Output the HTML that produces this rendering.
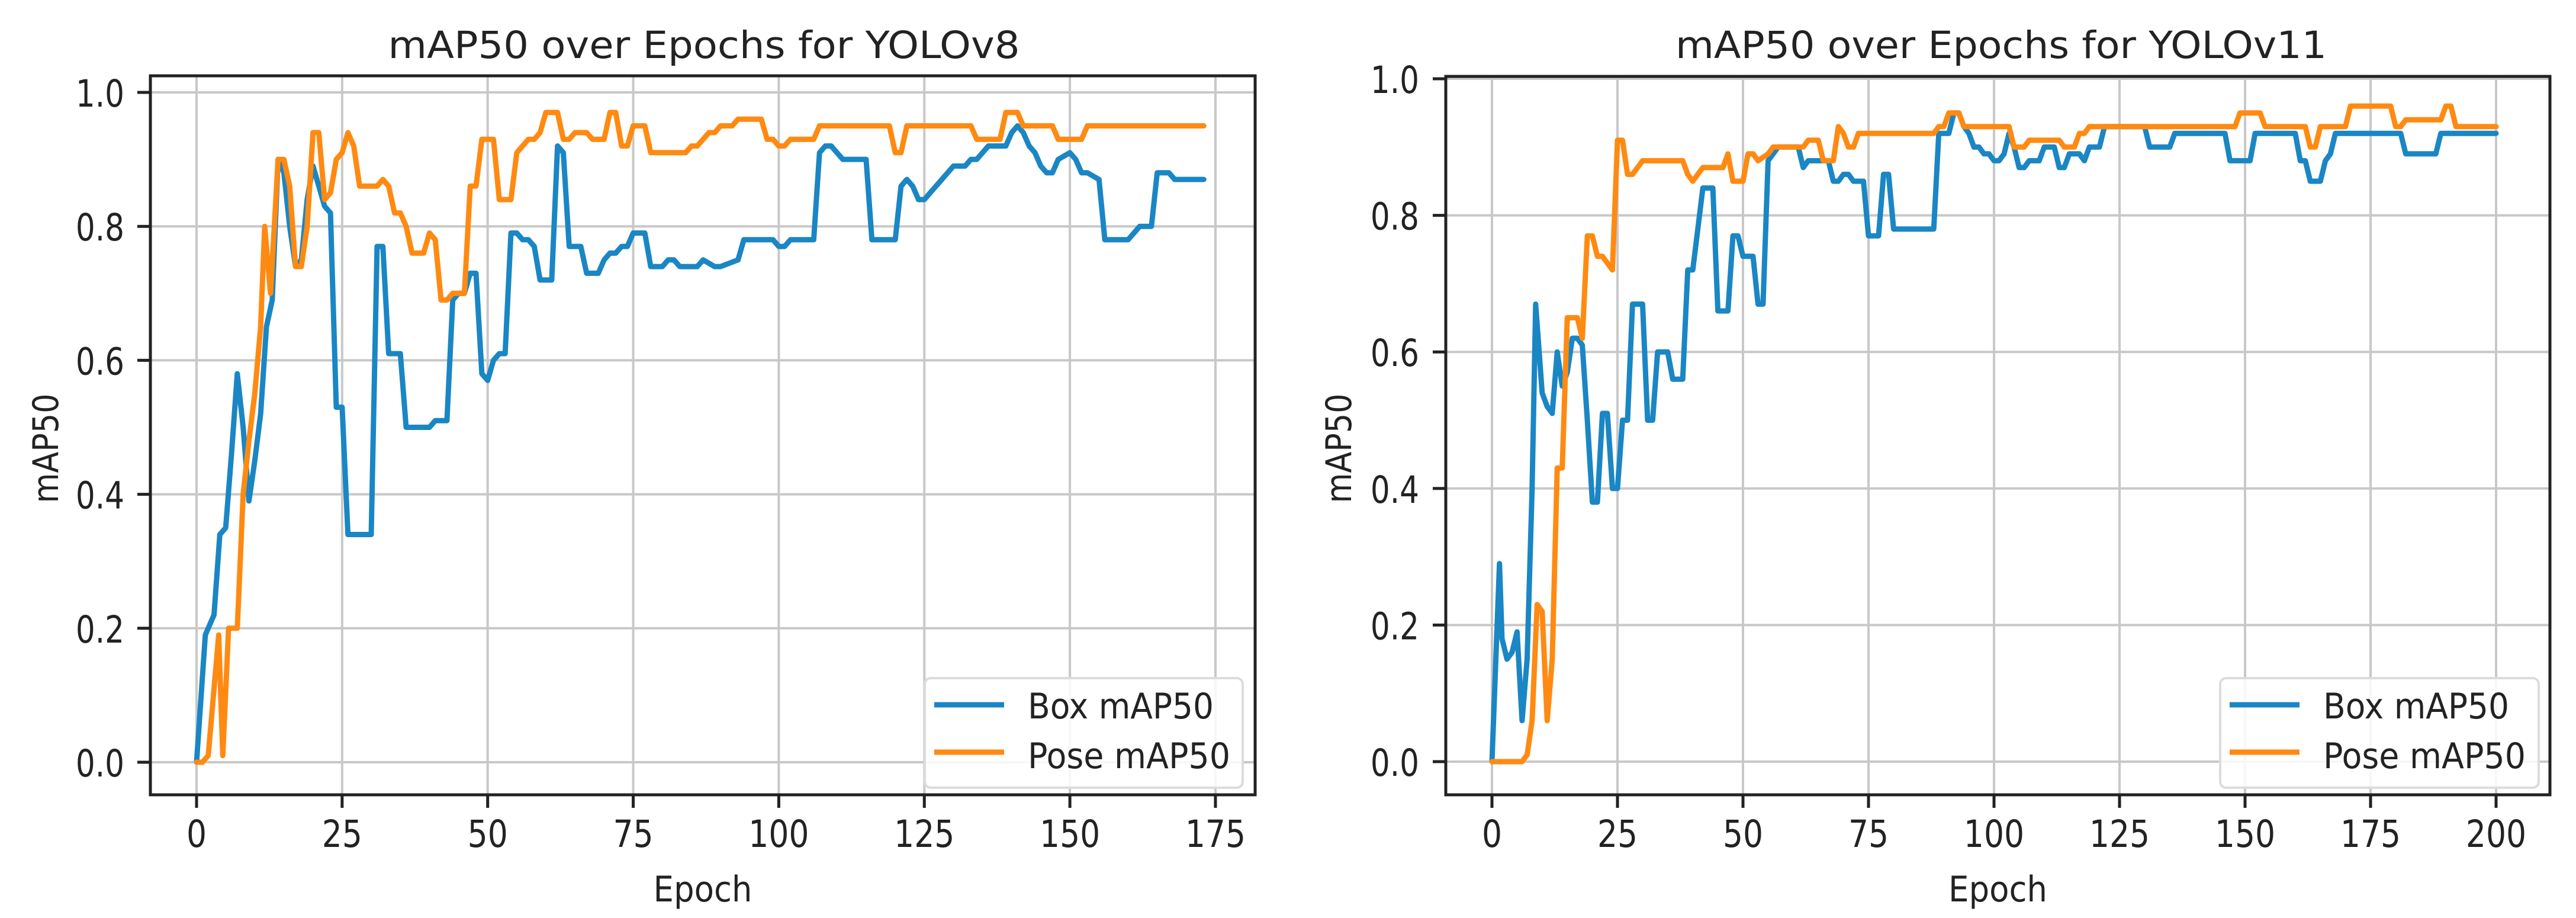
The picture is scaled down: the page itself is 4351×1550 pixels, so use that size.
<!DOCTYPE html>
<html><head><meta charset="utf-8">
<style>
html,body{margin:0;padding:0;background:#fff;}
svg{display:block;font-family:"DejaVu Sans","Liberation Sans",sans-serif;}
</style></head>
<body>
<svg id="fig" width="4351" height="1550" viewBox="0 0 4351 1550" xmlns="http://www.w3.org/2000/svg"></svg>
<script>
// ---- Data: YOLOv8 (left) ----
const v8BoxEpochs = [0,1.5,3,4,5,6,7,8,9,10,11,12,13,14,15,16,17,18,19,20,21,22,23,24,25,26,30,31,32,33,35,36,40,41,43,44,45,46,47,48,49,50,51,52,53,54,55,56,57,58,59,61,62,63,64,66,67,69,70,71,72,73,74,75,77,78,80,81,82,83,86,87,89,90,93,94,99,100,101,102,106,107,108,109,110,111,115,116,120,121,122,123,124,125,126,127,128,129,130,132,133,134,135,136,139,140,141,142,143,144,145,146,147,148,150,151,152,153,155,156,160,161,162,164,165,167,168,173];
const v8BoxValues = [0,0.19,0.22,0.34,0.35,0.46,0.58,0.5,0.39,0.45,0.52,0.65,0.69,0.9,0.88,0.8,0.74,0.75,0.84,0.89,0.86,0.83,0.82,0.53,0.53,0.34,0.34,0.77,0.77,0.61,0.61,0.5,0.5,0.51,0.51,0.69,0.7,0.7,0.73,0.73,0.58,0.57,0.6,0.61,0.61,0.79,0.79,0.78,0.78,0.77,0.72,0.72,0.92,0.91,0.77,0.77,0.73,0.73,0.75,0.76,0.76,0.77,0.77,0.79,0.79,0.74,0.74,0.75,0.75,0.74,0.74,0.75,0.74,0.74,0.75,0.78,0.78,0.77,0.77,0.78,0.78,0.91,0.92,0.92,0.91,0.9,0.9,0.78,0.78,0.86,0.87,0.86,0.84,0.84,0.85,0.86,0.87,0.88,0.89,0.89,0.9,0.9,0.91,0.92,0.92,0.94,0.95,0.94,0.92,0.91,0.89,0.88,0.88,0.9,0.91,0.9,0.88,0.88,0.87,0.78,0.78,0.79,0.8,0.8,0.88,0.88,0.87,0.87];
const v8PoseEpochs = [0,1,2,3.8,4.5,5.5,7,8,9,10,11,11.7,12.7,14,15,16,17,18,19,20,21,22,23,24,25,26,27,28,31,32,33,34,35,36,37,39,40,41,42,43,44,46,47,48,49,51,52,54,55,56,57,58,59,60,62,63,64,65,67,68,70,71,72,73,74,75,77,78,84,85,86,87,88,89,90,92,93,97,98,99,100,101,102,106,107,119,120,121,122,133,134,138,139,141,142,147,148,152,153,173];
const v8PoseValues = [0,0,0.01,0.19,0.01,0.2,0.2,0.4,0.48,0.55,0.65,0.8,0.7,0.9,0.9,0.86,0.74,0.74,0.8,0.94,0.94,0.84,0.85,0.9,0.91,0.94,0.92,0.86,0.86,0.87,0.86,0.82,0.82,0.8,0.76,0.76,0.79,0.78,0.69,0.69,0.7,0.7,0.86,0.86,0.93,0.93,0.84,0.84,0.91,0.92,0.93,0.93,0.94,0.97,0.97,0.93,0.93,0.94,0.94,0.93,0.93,0.97,0.97,0.92,0.92,0.95,0.95,0.91,0.91,0.92,0.92,0.93,0.94,0.94,0.95,0.95,0.96,0.96,0.93,0.93,0.92,0.92,0.93,0.93,0.95,0.95,0.91,0.91,0.95,0.95,0.93,0.93,0.97,0.97,0.95,0.95,0.93,0.93,0.95,0.95];
// ---- Data: YOLOv11 (right) ----
const v11BoxEpochs = [0,1.5,2,3,4,5,6,7,8,8.7,10,11,12,13,14,15,16,17,18,19,20,21,22,23,24,25,26,27,28,30,31,32,33,35,36,38,39,40,41,42,44,45,47,48,49,50,52,53,54,55,56,57,61,62,63,67,68,69,70,71,72,74,75,77,78,79,80,88,89,91,92,93,94,95,96,97,98,99,100,101,102,103,104,105,106,107,109,110,112,113,114,115,117,118,119,121,122,130,131,135,136,146,147,151,152,160,161,162,163,165,166,167,168,181,182,188,189,200];
const v11BoxValues = [0,0.29,0.18,0.15,0.16,0.19,0.06,0.15,0.4,0.67,0.54,0.52,0.51,0.6,0.55,0.57,0.62,0.62,0.61,0.5,0.38,0.38,0.51,0.51,0.4,0.4,0.5,0.5,0.67,0.67,0.5,0.5,0.6,0.6,0.56,0.56,0.72,0.72,0.78,0.84,0.84,0.66,0.66,0.77,0.77,0.74,0.74,0.67,0.67,0.88,0.89,0.9,0.9,0.87,0.88,0.88,0.85,0.85,0.86,0.86,0.85,0.85,0.77,0.77,0.86,0.86,0.78,0.78,0.92,0.92,0.95,0.95,0.93,0.92,0.9,0.9,0.89,0.89,0.88,0.88,0.89,0.92,0.9,0.87,0.87,0.88,0.88,0.9,0.9,0.87,0.87,0.89,0.89,0.88,0.9,0.9,0.93,0.93,0.9,0.9,0.92,0.92,0.88,0.88,0.92,0.92,0.88,0.88,0.85,0.85,0.88,0.89,0.92,0.92,0.89,0.89,0.92,0.92];
const v11PoseEpochs = [0,6,7,8,9,10,11,12,13,14,15,17,18,19,20,21,22,23,24,25,26,27,28,29,30,38,39,40,41,42,44,46,47,48,50,51,52,53,55,56,62,63,65,66,68,69,70,71,72,73,88,89,90,91,93,94,103,104,106,107,113,114,116,117,118,119,148,149,153,154,162,163,164,165,170,171,179,180,181,182,189,190,191,192,200];
const v11PoseValues = [0,0,0.01,0.06,0.23,0.22,0.06,0.15,0.43,0.43,0.65,0.65,0.62,0.77,0.77,0.74,0.74,0.73,0.72,0.91,0.91,0.86,0.86,0.87,0.88,0.88,0.86,0.85,0.86,0.87,0.87,0.87,0.89,0.85,0.85,0.89,0.89,0.88,0.89,0.9,0.9,0.91,0.91,0.88,0.88,0.93,0.92,0.9,0.9,0.92,0.92,0.93,0.93,0.95,0.95,0.93,0.93,0.9,0.9,0.91,0.91,0.9,0.9,0.92,0.92,0.93,0.93,0.95,0.95,0.93,0.93,0.9,0.9,0.93,0.93,0.96,0.96,0.93,0.93,0.94,0.94,0.96,0.96,0.93,0.93];
const yTicks = [0.0,0.2,0.4,0.6,0.8,1.0];
const yTickLabels = ["0.0","0.2","0.4","0.6","0.8","1.0"];
const v8XTicks = [0,25,50,75,100,125,150,175];
const v11XTicks = [0,25,50,75,100,125,150,175,200];

const NS = "http://www.w3.org/2000/svg";
const svg = document.getElementById('fig');
function mk(tag, attrs, parent){
  const e = document.createElementNS(NS, tag);
  for (const k in attrs) e.setAttribute(k, attrs[k]);
  (parent||svg).appendChild(e);
  return e;
}
const BLUE = "#1a86c4", ORANGE = "#ff8a12";

function drawChart(cfg){
  const g = mk('g', {});
  
  
  const X = e => cfg.x0 + (e) * cfg.xPer;
  const Y = v => cfg.y0 - v * (cfg.y0 - cfg.y1);
  // grid
  cfg.xTicks.forEach(t => {
    const l = mk('line', {x1:X(t), x2:X(t), y1:cfg.top, y2:cfg.bottom, stroke:"#c8c8c8", "stroke-width":4}, g);
    
    
  });
  yTicks.forEach(t => {
    const l = mk('line', {x1:cfg.left, x2:cfg.right, y1:Y(t), y2:Y(t), stroke:"#c8c8c8", "stroke-width":4}, g);
    
    
  });
  // series
  function series(ep, vals, color, nm){
    const d = ep.map((e,i) => (i?'L':'M') + X(e).toFixed(1) + ' ' + Y(vals[i]).toFixed(1)).join(' ');
    const p = mk('path', {d:d, fill:"none", stroke:color, "stroke-width":9, "stroke-linejoin":"round", "stroke-linecap":"round"}, g);
    
    
  }
  series(cfg.boxE, cfg.boxV, BLUE, 'box-map50-line');
  series(cfg.poseE, cfg.poseV, ORANGE, 'pose-map50-line');
  // spines
  const fr = mk('rect', {x:cfg.left, y:cfg.top, width:cfg.right-cfg.left, height:cfg.bottom-cfg.top, fill:"none", stroke:"#222", "stroke-width":5}, g);
  
  
  // x ticks
  cfg.xTicks.forEach(t => {
    mk('line', {x1:X(t), x2:X(t), y1:cfg.bottom, y2:cfg.bottom+22, stroke:"#222", "stroke-width":5}, g);
    const tx = mk('text', {transform:`translate(${X(t)},1430) scale(0.85,1)`, "text-anchor":"middle", "font-size":63, fill:"#222"}, g);
    tx.textContent = String(t);
    
    
  });
  // y ticks
  yTicks.forEach((t,i) => {
    mk('line', {x1:cfg.left-22, x2:cfg.left, y1:Y(t), y2:Y(t), stroke:"#222", "stroke-width":5}, g);
    const tx = mk('text', {transform:`translate(${cfg.yLabRight},${Y(t)+24}) scale(0.82,1)`, "text-anchor":"end", "font-size":63, fill:"#222"}, g);
    tx.textContent = yTickLabels[i];
    
    
  });
  // title
  const ti = mk('text', {x:cfg.titleX, y:98, "text-anchor":"middle", "font-size":63, fill:"#222", textLength:cfg.titleW, lengthAdjust:"spacingAndGlyphs"}, g);
  ti.textContent = cfg.title;
  
  
  // x label
  const xl = mk('text', {x:(cfg.left+cfg.right)/2, y:1522, "text-anchor":"middle", "font-size":60, fill:"#222", textLength:167, lengthAdjust:"spacingAndGlyphs"}, g);
  xl.textContent = "Epoch";
  
  
  // y label
  const yl = mk('text', {transform:`translate(${cfg.yTitleX},757) rotate(-90)`, "text-anchor":"middle", "font-size":60, fill:"#222", textLength:185, lengthAdjust:"spacingAndGlyphs"}, g);
  yl.textContent = "mAP50";
  
  
  // legend
  const lg = mk('g', {}, g);
  
  
  mk('rect', {x:cfg.legX, y:1145, width:cfg.legW, height:185, rx:10, fill:"#fff", "fill-opacity":0.85, stroke:"#dcdcdc", "stroke-width":4}, lg);
  [[BLUE,"Box mAP50",1190,1213,314],[ORANGE,"Pose mAP50",1270,1297,342]].forEach(([c,t,ly,ty,tw]) => {
    const en = mk('g', {}, lg);
    
    
    mk('line', {x1:cfg.legX+16, x2:cfg.legX+134, y1:ly, y2:ly, stroke:c, "stroke-width":9}, en);
    const tx = mk('text', {x:cfg.legX+174, y:ty, "font-size":60, fill:"#222", textLength:tw, lengthAdjust:"spacingAndGlyphs"}, en);
    tx.textContent = t;
  });
}

drawChart({name:'yolov8-chart', title:'mAP50 over Epochs for YOLOv8', left:254, right:2120, top:128, bottom:1342,
  x0:332, xPer:9.834, y0:1287, y1:156, xTicks:v8XTicks, yLabRight:210, titleX:1189, titleW:1067, yTitleX:98,
  legX:1562, legW:537, boxE:v8BoxEpochs, boxV:v8BoxValues, poseE:v8PoseEpochs, poseV:v8PoseValues});
drawChart({name:'yolov11-chart', title:'mAP50 over Epochs for YOLOv11', left:2442, right:4307, top:129, bottom:1342,
  x0:2520, xPer:8.48, y0:1286, y1:133, xTicks:v11XTicks, yLabRight:2397, titleX:3380, titleW:1100, yTitleX:2282,
  legX:3750, legW:538, boxE:v11BoxEpochs, boxV:v11BoxValues, poseE:v11PoseEpochs, poseV:v11PoseValues});
</script>
</body></html>
